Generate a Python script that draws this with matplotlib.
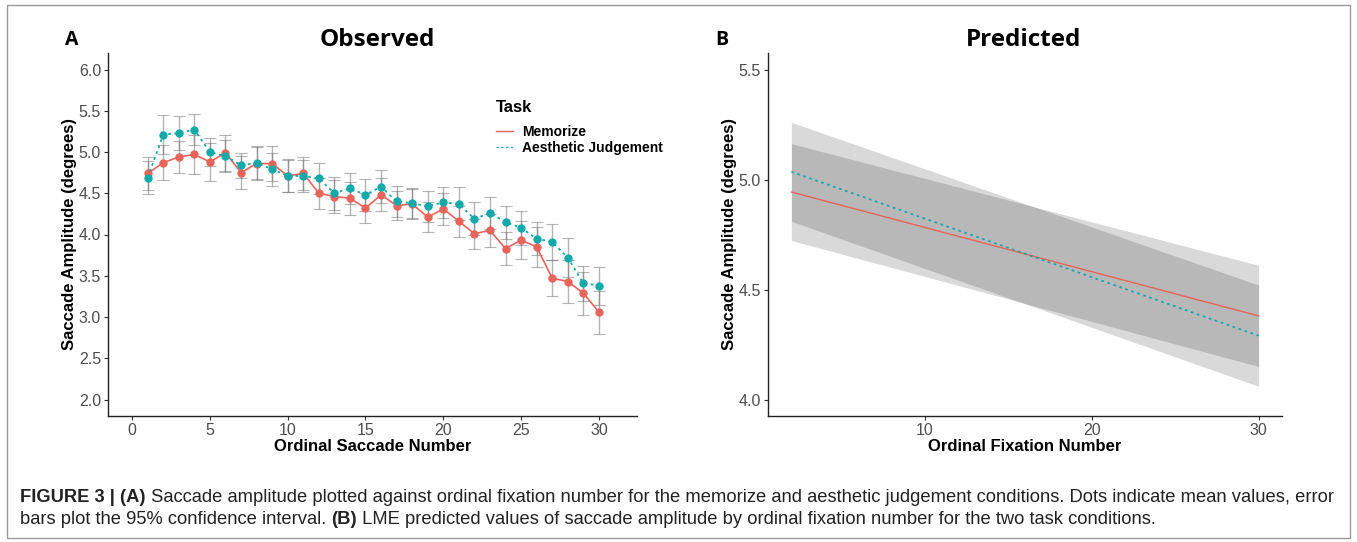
import numpy as np
import matplotlib.pyplot as plt
from matplotlib.patches import Rectangle

plt.rcParams['font.family'] = ['Liberation Sans', 'DejaVu Sans']

# panel A: observed means and 95% CI half-widths
saccade_num = list(range(1, 31))
memorize_mean = [4.74, 4.87, 4.94, 4.97, 4.88, 4.99, 4.75, 4.86, 4.86, 4.71,
                 4.74, 4.50, 4.46, 4.44, 4.32, 4.48, 4.35, 4.37, 4.21, 4.31,
                 4.16, 4.01, 4.05, 3.83, 3.93, 3.85, 3.47, 3.43, 3.29, 3.06]
memorize_ci = [0.20, 0.21, 0.19, 0.24, 0.23, 0.22, 0.20, 0.20, 0.21, 0.20,
               0.20, 0.19, 0.20, 0.20, 0.18, 0.20, 0.18, 0.18, 0.18, 0.19,
               0.19, 0.18, 0.20, 0.20, 0.23, 0.24, 0.22, 0.26, 0.26, 0.26]
aesthetic_mean = [4.69, 5.21, 5.23, 5.27, 5.00, 4.95, 4.84, 4.87, 4.79, 4.71,
                  4.71, 4.68, 4.50, 4.56, 4.48, 4.58, 4.40, 4.38, 4.34, 4.39,
                  4.37, 4.19, 4.26, 4.15, 4.08, 3.95, 3.91, 3.72, 3.41, 3.38]
aesthetic_ci = [0.20, 0.24, 0.21, 0.19, 0.17, 0.19, 0.15, 0.20, 0.20, 0.19,
                0.19, 0.19, 0.20, 0.19, 0.19, 0.20, 0.19, 0.18, 0.19, 0.19,
                0.20, 0.20, 0.19, 0.20, 0.21, 0.20, 0.22, 0.24, 0.21, 0.23]

# panel B: LME predicted lines (endpoints) and CI half-widths
fix_num = [2, 30]
pred_memorize = [4.943, 4.38]
pred_aesthetic = [5.035, 4.29]
pred_memorize_ci = [0.22, 0.23]
pred_aesthetic_ci = [0.225, 0.23]

red = '#E8645B'
teal = '#14A9AA'
tick_col = '#4d4d4d'

W, H = 1357, 542
fig = plt.figure(figsize=(W / 100, H / 100), dpi=100)

def px_axes(l, t, r, b):
    return fig.add_axes([l / W, 1 - b / H, (r - l) / W, (b - t) / H])

def style(ax):
    for s in ['top', 'right']:
        ax.spines[s].set_visible(False)
    for s in ['left', 'bottom']:
        ax.spines[s].set_color('#222222')
        ax.spines[s].set_linewidth(1.0)
    ax.tick_params(colors=tick_col, labelsize=11.5, length=3, width=0.8, pad=2)
    ax.tick_params(axis='both', which='both', color='#333333')

# ---- panel A
axA = px_axes(108, 53, 637, 416)
axA.errorbar(saccade_num, memorize_mean, yerr=memorize_ci, fmt='none',
             ecolor='#777777', alpha=0.55, elinewidth=1, capsize=4, capthick=0.8)
axA.errorbar(saccade_num, aesthetic_mean, yerr=aesthetic_ci, fmt='none',
             ecolor='#777777', alpha=0.55, elinewidth=1, capsize=4, capthick=0.8)
axA.plot(saccade_num, memorize_mean, color=red, lw=1.2, marker='o', ms=5,
         label='Memorize')
axA.plot(saccade_num, aesthetic_mean, color=teal, lw=1.3, ls=(0, (1.5, 2)),
         marker='o', ms=5, label='Aesthetic Judgement')
axA.set_xlim(-1.55, 32.45)
axA.set_ylim(1.8, 6.2)
axA.set_xticks([0, 5, 10, 15, 20, 25, 30])
axA.set_yticks(np.arange(2.0, 6.01, 0.5))
axA.set_yticklabels([f'{v:.1f}' for v in np.arange(2.0, 6.01, 0.5)])
axA.set_xlabel('Ordinal Saccade Number', fontsize=12, fontweight='bold', labelpad=1)
axA.set_ylabel('Saccade Amplitude (degrees)', fontsize=12, fontweight='bold', labelpad=1)
style(axA)
leg = axA.legend(title='Task', loc='upper left', bbox_to_anchor=(0.71, 0.905),
                 frameon=False, fontsize=10, handlelength=1.2,
                 title_fontproperties={'weight': 'bold', 'size': 12},
                 labelspacing=0.15, handletextpad=0.7)
leg._legend_box.align = 'left'
leg._legend_box.sep = 7
for t in leg.get_texts():
    t.set_fontweight('bold')
for h in leg.legend_handles:
    h.set_marker('')
    h.set_linewidth(1)

# ---- panel B
axB = px_axes(768, 53, 1282, 416)
fx = np.array(fix_num)
pm = np.array(pred_memorize)
pa = np.array(pred_aesthetic)
axB.fill_between(fx, pm - np.array(pred_memorize_ci), pm + np.array(pred_memorize_ci),
                 color='black', alpha=0.15, lw=0)
axB.fill_between(fx, pa - np.array(pred_aesthetic_ci), pa + np.array(pred_aesthetic_ci),
                 color='black', alpha=0.15, lw=0)
axB.plot(fx, pm, color=red, lw=1.0)
axB.plot(fx, pa, color=teal, lw=1.3, ls=(0, (1.5, 2)))
axB.set_xlim(0.6, 31.4)
axB.set_ylim(3.925, 5.575)
axB.set_xticks([10, 20, 30])
axB.set_yticks([4.0, 4.5, 5.0, 5.5])
axB.set_yticklabels(['4.0', '4.5', '5.0', '5.5'])
axB.set_xlabel('Ordinal Fixation Number', fontsize=12, fontweight='bold', labelpad=1)
axB.set_ylabel('Saccade Amplitude (degrees)', fontsize=12, fontweight='bold', labelpad=1)
style(axB)

# panel titles and letters
title_font = ['Open Sans', 'DejaVu Sans']
fig.text(377 / W, 1 - 40 / H, 'Observed', ha='center', va='center', fontsize=17.5,
         fontweight='bold', family=title_font)
fig.text(1024 / W, 1 - 40 / H, 'Predicted', ha='center', va='center', fontsize=17.5,
         fontweight='bold', family=title_font)
fig.text(72 / W, 1 - 40 / H, 'A', ha='center', va='center', fontsize=14,
         fontweight='bold', family=title_font)
fig.text(722 / W, 1 - 40 / H, 'B', ha='center', va='center', fontsize=14,
         fontweight='bold', family=title_font)

# frame around figure and caption
fig.patches.append(Rectangle((7 / W, 4 / H), (1350 - 7) / W, (537 - 4) / H,
                             transform=fig.transFigure, fill=False,
                             edgecolor='#9a9a9a', lw=1.0))

cap_font = ['Liberation Sans', 'DejaVu Sans']
lines = [
    [('FIGURE 3 | (A)', 'bold'),
     (' Saccade amplitude plotted against ordinal fixation number for the memorize and '
      'aesthetic judgement conditions. Dots indicate mean values, error', 'normal')],
    [('bars plot the 95% confidence interval. ', 'normal'), ('(B)', 'bold'),
     (' LME predicted values of saccade amplitude by ordinal fixation number for the '
      'two task conditions.', 'normal')],
]

fig.canvas.draw()
renderer = fig.canvas.get_renderer()

def draw_line(segs, y, size):
    x = 20
    out = []
    for txt, wt in segs:
        t = fig.text(x / W, 1 - y / H, txt, ha='left', va='center', fontsize=size,
                     fontweight=wt, family=cap_font, color='#222222')
        x += t.get_window_extent(renderer).width
        out.append(t)
    return x, out

# fit the first caption line to the frame width
end, tmp = draw_line(lines[0], 497, 11.5)
for t in tmp:
    t.remove()
cap_size = 11.5 * (1336 - 20) / (end - 20)
for i, segs in enumerate(lines):
    draw_line(segs, 497 + i * 23, cap_size)

fig.savefig('out.png', dpi=100)
